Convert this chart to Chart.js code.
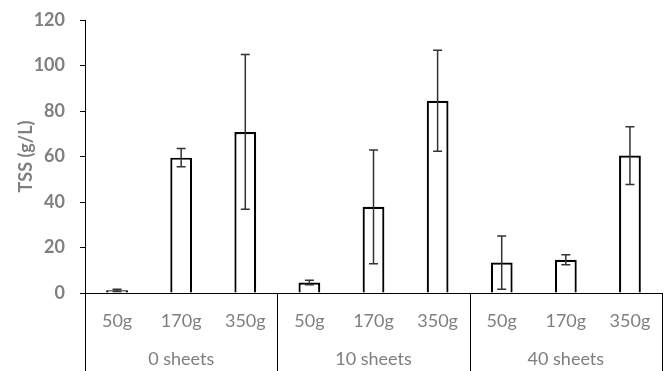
<!DOCTYPE html>
<html>
<head>
<meta charset="utf-8">
<script src="https://cdn.jsdelivr.net/npm/chart.js@4.4.1/dist/chart.umd.min.js"></script>
<style>
    html, body { margin: 0; padding: 0; background: #fff; }
    #wrap { width: 669px; height: 371px; }
</style>
</head>
<body>
<div id="wrap"><canvas id="tssChart"></canvas></div>
<script>
// chart data
const massLabels = ['50g', '170g', '350g', '50g', '170g', '350g', '50g', '170g', '350g'];
const sheetGroups = ['0 sheets', '10 sheets', '40 sheets'];
const tssValues = [1.2, 59.5, 70.8, 4.6, 37.9, 84.5, 13.4, 14.6, 60.4];
const tssErrors = [0.5, 4.0, 34.0, 1.0, 25.0, 22.2, 11.7, 2.2, 12.7];
const yTicks = [0, 20, 40, 60, 80, 100, 120];

const GREY = '#7f7f7f';
const FONT = 'Lato, "Open Sans", sans-serif';

// error bars, drawn through the y scale
const errorBarPlugin = {
    id: 'errorBars',
    afterDatasetsDraw(chart) {
        const ctx = chart.ctx;
        const y = chart.scales.y;
        const meta = chart.getDatasetMeta(0);
        ctx.save();
        ctx.strokeStyle = '#333';
        ctx.lineWidth = 1.5;
        meta.data.forEach((bar, i) => {
            const top = y.getPixelForValue(tssValues[i] + tssErrors[i]);
            const bot = y.getPixelForValue(Math.max(0, tssValues[i] - tssErrors[i]));
            const x = bar.x;
            ctx.beginPath();
            ctx.moveTo(x, top); ctx.lineTo(x, bot);
            ctx.moveTo(x - 4.5, top); ctx.lineTo(x + 4.5, top);
            ctx.moveTo(x - 4.5, bot); ctx.lineTo(x + 4.5, bot);
            ctx.stroke();
        });
        ctx.restore();
    }
};

// second level of the category axis: group names and separators
const groupAxisPlugin = {
    id: 'groupAxis',
    afterDraw(chart) {
        const ctx = chart.ctx;
        const x = chart.scales.x;
        const area = chart.chartArea;
        const bottom = chart.height;
        const per = massLabels.length / sheetGroups.length;
        ctx.save();
        ctx.strokeStyle = '#000';
        ctx.lineWidth = 1;
        const edges = [area.left];
        for (let g = 1; g < sheetGroups.length; g++) {
            edges.push((x.getPixelForValue(g * per - 1) + x.getPixelForValue(g * per)) / 2);
        }
        edges.push(area.right);
        ctx.beginPath();
        edges.forEach(e => { ctx.moveTo(Math.round(e) + 0.5, area.bottom); ctx.lineTo(Math.round(e) + 0.5, bottom); });
        ctx.stroke();

        ctx.fillStyle = GREY;
        ctx.font = '18px ' + FONT;
        ctx.textAlign = 'center';
        ctx.textBaseline = 'middle';
        sheetGroups.forEach((name, g) => {
            ctx.fillText(name, (edges[g] + edges[g + 1]) / 2, 359);
        });
        ctx.restore();
    }
};

document.addEventListener('DOMContentLoaded', function() {
    new Chart(document.getElementById('tssChart').getContext('2d'), {
        type: 'bar',
        data: {
            labels: massLabels,
            datasets: [{
                data: tssValues,
                backgroundColor: '#fff',
                borderColor: '#000',
                borderWidth: 2.2,
                barPercentage: 0.34,
                categoryPercentage: 1
            }]
        },
        options: {
            responsive: true,
            maintainAspectRatio: false,
            animation: false,
            layout: { padding: { top: 20, right: 7, left: 0, bottom: 0 } },
            plugins: {
                legend: { display: false },
                tooltip: { enabled: false }
            },
            scales: {
                x: {
                    grid: { display: false, drawTicks: false },
                    border: { display: true, color: '#000', width: 1 },
                    ticks: {
                        color: GREY,
                        font: { family: FONT, size: 18 },
                        padding: 17,
                        maxRotation: 0,
                        autoSkip: false
                    },
                    afterFit(scale) { scale.height = 78; }
                },
                y: {
                    min: 0,
                    max: 120,
                    afterBuildTicks(scale) { scale.ticks = yTicks.map(v => ({ value: v })); },
                    grid: { drawOnChartArea: false, drawTicks: true, tickLength: 5, color: '#000' },
                    border: { display: true, color: '#000', width: 1 },
                    ticks: {
                        color: GREY,
                        font: { family: FONT, size: 18, weight: 'bold' },
                        padding: 15
                    },
                    title: {
                        display: true,
                        text: 'TSS (g/L)',
                        color: GREY,
                        font: { family: FONT, size: 18, weight: 'bold' },
                        padding: { top: 15, bottom: 0 }
                    },
                    afterFit(scale) {
                        scale.width = 85;
                        scale.paddingTop = 0;
                        scale.paddingBottom = 0;
                    }
                }
            }
        },
        plugins: [errorBarPlugin, groupAxisPlugin]
    });
});
</script>
</body>
</html>
